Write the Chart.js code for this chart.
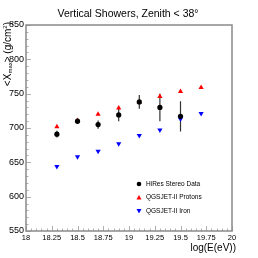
<!DOCTYPE html>
<html>
<head>
<meta charset="utf-8">
<script src="https://cdn.jsdelivr.net/npm/chart.js@4.4.0/dist/chart.umd.min.js"></script>
<style>
  html, body { margin: 0; padding: 0; background: #ffffff; }
  #c { display: block; }
</style>
</head>
<body>
<canvas id="c" width="258" height="258"></canvas>
<script>
const canvas = document.getElementById("c");
const ctx = canvas.getContext("2d");

const energies = [18.3, 18.5, 18.7, 18.9, 19.1, 19.3, 19.5];
const hiresXmax = [691, 710, 705, 719, 738, 730, 717];
const hiresErr = [5, 4, 6, 9, 10, 20, 22];

const modelEnergies = [18.3, 18.5, 18.7, 18.9, 19.1, 19.3, 19.5, 19.7];
const protonXmax = [702, 711, 720, 729, 738, 746, 753, 759];
const ironXmax = [644, 658, 666, 677, 689, 697, 713, 721];

const xTicks = [18, 18.25, 18.5, 18.75, 19, 19.25, 19.5, 19.75, 20];
const yTicks = [550, 600, 650, 700, 750, 800, 850];

const titleText = "Vertical Showers, Zenith < 38\u00b0";
const legendLabels = ["HiRes Stereo Data", "QGSJET-II Protons", "QGSJET-II Iron"];

const FONT = "'Liberation Sans', Arial, sans-serif";
const frameColor = "#8a8a8a";

function pts(xs, ys) {
    return xs.map((x, i) => ({ x: x, y: ys[i] }));
}

const extras = {
    id: "extras",
    beforeDatasetsDraw(chart) {
        const c = chart.ctx;
        const xs = chart.scales.x;
        const ys = chart.scales.y;
        const a = chart.chartArea;

        // ticks inside the frame
        c.save();
        c.strokeStyle = "#b0b0b0";
        c.lineWidth = 1;
        c.beginPath();
        for (let v = 18; v <= 20.0001; v += 0.05) {
            const px = Math.round(xs.getPixelForValue(v)) + 0.5;
            const major = Math.abs(v * 4 - Math.round(v * 4)) < 1e-6;
            const len = major ? 5 : 2.5;
            c.moveTo(px, a.bottom);
            c.lineTo(px, a.bottom - len);
        }
        for (let v = 550; v <= 850; v += 10) {
            const py = Math.round(ys.getPixelForValue(v)) + 0.5;
            const major = v % 50 === 0;
            const len = major ? 5 : 2.5;
            c.moveTo(a.left, py);
            c.lineTo(a.left + len, py);
        }
        c.stroke();

        // frame
        c.strokeStyle = frameColor;
        c.lineWidth = 1.5;
        c.strokeRect(a.left, a.top, a.right - a.left, a.bottom - a.top);

        // error bars
        c.strokeStyle = "#333333";
        c.lineWidth = 1.2;
        c.beginPath();
        energies.forEach((e, i) => {
            const px = xs.getPixelForValue(e);
            c.moveTo(px, ys.getPixelForValue(hiresXmax[i] - hiresErr[i]));
            c.lineTo(px, ys.getPixelForValue(hiresXmax[i] + hiresErr[i]));
        });
        c.stroke();
        c.restore();
    },
    afterDraw(chart) {
        const c = chart.ctx;
        const a = chart.chartArea;
        c.save();
        c.fillStyle = "#000000";

        // title
        c.font = "10.5px " + FONT;
        c.textAlign = "center";
        c.textBaseline = "middle";
        c.fillText(titleText, 128, 14);

        // x axis title
        c.font = "10px " + FONT;
        c.textAlign = "right";
        c.textBaseline = "middle";
        c.fillText("log(E(eV))", a.right + 4, 248);

        // y axis title, rotated, ending at the top of the frame
        c.translate(8, 22);
        c.rotate(-Math.PI / 2);
        c.textBaseline = "middle";
        c.textAlign = "left";
        const parts = [
            ["<X", "10px", 0],
            ["max", "6px", 2.5],
            ["> (g/cm", "10px", 0],
            ["2", "6px", -3],
            [")", "10px", 0]
        ];
        let total = 0;
        parts.forEach(p => { c.font = p[1] + " " + FONT; total += c.measureText(p[0]).width; });
        let x = -total;
        parts.forEach(p => {
            c.font = p[1] + " " + FONT;
            c.fillText(p[0], x, p[2]);
            x += c.measureText(p[0]).width;
        });
        c.restore();

        // legend
        c.save();
        c.font = "6.5px " + FONT;
        c.textAlign = "left";
        c.textBaseline = "middle";
        const rowsY = [184, 197.5, 211];
        chart.data.datasets.forEach((ds, i) => {
            const y = rowsY[i];
            c.fillStyle = ds.pointBackgroundColor;
            c.beginPath();
            if (i === 0) {
                c.arc(139, y, 2.3, 0, 2 * Math.PI);
            } else if (i === 1) {
                c.moveTo(139, y - 2.5); c.lineTo(141.5, y + 2); c.lineTo(136.5, y + 2); c.closePath();
            } else {
                c.moveTo(139, y + 2.5); c.lineTo(141.5, y - 2); c.lineTo(136.5, y - 2); c.closePath();
            }
            c.fill();
            c.fillStyle = "#000000";
            c.fillText(legendLabels[i], 146, y);
        });
        c.restore();
    }
};

new Chart(ctx, {
    type: "scatter",
    data: {
        datasets: [
            {
                label: legendLabels[0],
                data: pts(energies, hiresXmax),
                pointStyle: "circle",
                pointRadius: 2.6,
                pointBackgroundColor: "#000000",
                pointBorderColor: "#000000",
                pointBorderWidth: 0
            },
            {
                label: legendLabels[1],
                data: pts(modelEnergies, protonXmax),
                pointStyle: "triangle",
                pointRadius: 3,
                pointBackgroundColor: "#ff0000",
                pointBorderColor: "#ff0000",
                pointBorderWidth: 0
            },
            {
                label: legendLabels[2],
                data: pts(modelEnergies, ironXmax),
                pointStyle: "triangle",
                pointRotation: 180,
                pointRadius: 3,
                pointBackgroundColor: "#0000ff",
                pointBorderColor: "#0000ff",
                pointBorderWidth: 0
            }
        ]
    },
    options: {
        responsive: false,
        animation: false,
        layout: { padding: { top: 25, right: 26, left: 0, bottom: 0 } },
        plugins: {
            legend: { display: false },
            tooltip: { enabled: false }
        },
        scales: {
            x: {
                type: "linear",
                min: 18,
                max: 20,
                afterBuildTicks: s => { s.ticks = xTicks.map(v => ({ value: v })); },
                afterFit: s => { s.height = 27; },
                grid: { display: false, drawTicks: false },
                border: { display: false },
                ticks: {
                    color: "#000000",
                    font: { family: FONT, size: 7.5 },
                    padding: 2,
                    maxRotation: 0,
                    autoSkip: false,
                    callback: v => String(+v.toFixed(2))
                }
            },
            y: {
                type: "linear",
                min: 550,
                max: 850,
                afterBuildTicks: s => { s.ticks = yTicks.map(v => ({ value: v })); },
                afterFit: s => { s.width = 26; },
                grid: { display: false, drawTicks: false },
                border: { display: false },
                ticks: {
                    color: "#000000",
                    font: { family: FONT, size: 9 },
                    padding: 2,
                    autoSkip: false
                }
            }
        }
    },
    plugins: [extras]
});
</script>
</body>
</html>
